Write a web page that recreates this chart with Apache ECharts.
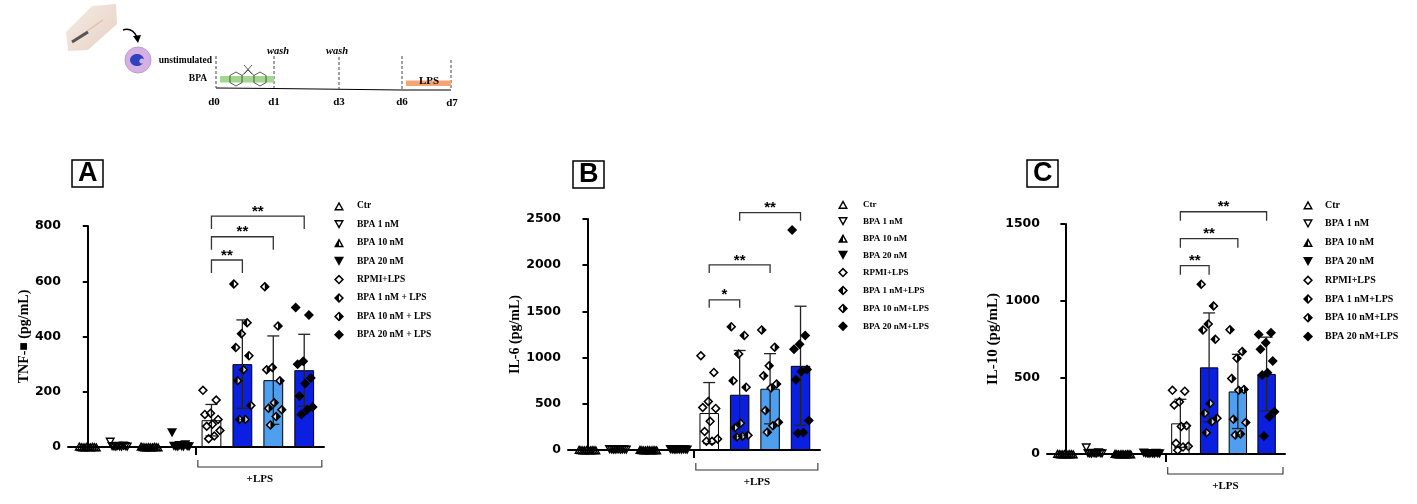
<!DOCTYPE html>
<html>
<head>
<meta charset="utf-8">
<script src="https://cdn.jsdelivr.net/npm/echarts@6/dist/echarts.min.js"></script>
<style>
  html, body { margin: 0; padding: 0; background: #fff; }
  #chart { width: 1417px; height: 504px; }
</style>
</head>
<body>
<div id="chart"></div>
<script>
// Group names, in plot order (legend texts differ a little between panels).
var GROUPS_A = ['Ctr', 'BPA 1 nM', 'BPA 10 nM', 'BPA 20 nM',
  'RPMI+LPS', 'BPA 1 nM + LPS', 'BPA 10 nM + LPS', 'BPA 20 nM + LPS'];
var GROUPS_BC = ['Ctr', 'BPA 1 nM', 'BPA 10 nM', 'BPA 20 nM',
  'RPMI+LPS', 'BPA 1 nM+LPS', 'BPA 10 nM+LPS', 'BPA 20 nM+LPS'];

// Y axis ticks per panel.
var TICKS_A = [0, 200, 400, 600, 800];
var TICKS_B = [0, 500, 1000, 1500, 2000, 2500];
var TICKS_C = [0, 500, 1000, 1500];

// A: TNF (pg/mL)
var TNF_MEAN = [1, 3, 1, 7, 97, 300, 242, 278];
var TNF_SD = [1, 6, 1, 12, 57, 160, 160, 130];
var TNF_POINTS = [
  [3, 2, 2, 1, 1, 1, 0, 0, 0, 0],
  [18, 4, 3, 2, 2, 1, 1, 0, 0, 0],
  [3, 2, 1, 1, 1, 0, 0, 0, 0, 0],
  [52, 8, 5, 3, 2, 2, 1, 1, 0, 0],
  [205, 170, 122, 118, 100, 82, 75, 60, 40, 30],
  [590, 450, 410, 360, 330, 280, 240, 150, 100, 100],
  [580, 438, 288, 280, 240, 160, 140, 135, 110, 80],
  [505, 478, 310, 300, 250, 230, 185, 145, 135, 118]
];
var TNF_BRACKETS = [[4, 5, 677, '**'], [4, 6, 761, '**'], [4, 7, 836, '**']];

// B: IL-6 (pg/mL)
var IL6_MEAN = [2, 2, 2, 2, 400, 598, 663, 911];
var IL6_SD = [2, 2, 2, 2, 330, 479, 380, 645];
var IL6_POINTS = [
  [5, 4, 3, 3, 2, 2, 1, 1, 0, 0],
  [5, 4, 3, 3, 2, 2, 1, 1, 0, 0],
  [5, 4, 3, 3, 2, 2, 1, 1, 0, 0],
  [5, 4, 3, 3, 2, 2, 1, 1, 0, 0],
  [1020, 840, 525, 460, 450, 310, 200, 120, 95, 95],
  [1335, 1240, 1040, 750, 680, 290, 240, 160, 150, 140],
  [1300, 1113, 911, 803, 713, 670, 428, 299, 263, 191],
  [2380, 1240, 1145, 1090, 870, 850, 760, 320, 190, 180]
];
var IL6_BRACKETS = [[4, 5, 1625, '*'], [4, 6, 2003, '**'], [5, 7, 2568, '**']];

// C: IL-10 (pg/mL)
var IL10_MEAN = [2, 7, 2, 3, 200, 565, 408, 522];
var IL10_SD = [1, 12, 1, 2, 157, 355, 242, 240];
var IL10_POINTS = [
  [3, 2, 2, 1, 1, 0, 0, 0, 0, 0],
  [40, 8, 5, 4, 3, 2, 2, 1, 1, 0],
  [3, 2, 2, 1, 1, 0, 0, 0, 0, 0],
  [6, 5, 4, 3, 2, 2, 1, 1, 0, 0],
  [415, 410, 340, 320, 185, 180, 70, 50, 45, 25],
  [1107, 965, 848, 809, 748, 330, 265, 233, 211, 139],
  [810, 668, 624, 493, 420, 415, 226, 205, 130, 124],
  [780, 791, 726, 683, 607, 530, 515, 276, 243, 117]
];
var IL10_BRACKETS = [[4, 5, 1228, '**'], [4, 6, 1404, '**'], [4, 7, 1580, '**']];

// Stimulated groups sit under the "+LPS" bracket.
var LPS_GROUP = [4, 7];

// ---- styling ----
var SANS = '"Liberation Sans", Arial, sans-serif';
var WIDE_SANS = '"DejaVu Sans", "Liberation Sans", sans-serif';
var SERIF = '"Liberation Serif", "Times New Roman", serif';
var DARK_BLUE = '#0b1fe0';
var LIGHT_BLUE = '#4f9ff0';
var BAR_COLORS = ['#fff', '#fff', '#fff', '#fff', '#fff', DARK_BLUE, LIGHT_BLUE, DARK_BLUE];

// Marker shapes drawn as filled compound paths (outer ring + optional half).
var RING_DIAMOND = 'M5,0L10,5L5,10L0,5ZM5,2.2L2.2,5L5,7.8L7.8,5Z';
var SYMBOLS = [
  'path://M5,0L10,9L0,9ZM5,2.9L2.4,7.5L7.6,7.5Z',
  'path://M0,0L10,0L5,9ZM2.4,1.5L5,6.1L7.6,1.5Z',
  'path://M5,0L10,9L0,9ZM5,2.9L2.4,7.5L7.6,7.5ZM5,2.9L5,7.5L2.4,7.5Z',
  'path://M0,0L10,0L5,9Z',
  'path://' + RING_DIAMOND,
  'path://' + RING_DIAMOND + 'M5,2.2L5,7.8L2.2,5Z',
  'path://' + RING_DIAMOND + 'M5,2.2L7.8,5L5,7.8Z',
  'path://M5,0L10,5L5,10L0,5Z'
];
var SYMBOL_SIZES = [[10, 9], [10, 9], [10, 9], [10, 9], 10, 10, 10, 10];

// deterministic horizontal spread of the dots inside a bar
function spread(j) {
  return (((j * 7) % 10) / 9 - 0.5) * 0.55;
}

function errorRender(params, api) {
  var x = api.value(0), m = api.value(1), s = api.value(2);
  var top = api.coord([x, m + s]);
  var lowV = m - s;
  var bot = api.coord([x, Math.max(0, lowV)]);
  var st = { stroke: '#222', lineWidth: 1.3 };
  var kids = [
    { type: 'line', shape: { x1: top[0], y1: top[1], x2: bot[0], y2: bot[1] }, style: st },
    { type: 'line', shape: { x1: top[0] - 6, y1: top[1], x2: top[0] + 6, y2: top[1] }, style: st }
  ];
  if (lowV > 0) {
    kids.push({ type: 'line', shape: { x1: bot[0] - 6, y1: bot[1], x2: bot[0] + 6, y2: bot[1] }, style: st });
  }
  return { type: 'group', children: kids };
}

function bracketRender(list, tick) {
  return function (params, api) {
    var a = api.coord([api.value(0), api.value(2)]);
    var b = api.coord([api.value(1), api.value(2)]);
    var st = { stroke: '#333', lineWidth: 1.3, fill: null };
    return {
      type: 'group',
      children: [
        { type: 'polyline', shape: { points: [[a[0], a[1] + tick], a, b, [b[0], b[1] + tick]] }, style: st },
        {
          type: 'text',
          style: {
            text: list[params.dataIndex][3], x: (a[0] + b[0]) / 2, y: a[1] + 3,
            align: 'center', verticalAlign: 'bottom', textAlign: 'center', textVerticalAlign: 'bottom',
            font: 'bold 15px ' + SANS, fill: '#000'
          }
        }
      ]
    };
  };
}

function groupRender(params, api) {
  var sep = api.coord([api.value(0) - 0.5, 0]);
  var a = api.coord([api.value(0) - 0.44, 0]);
  var b = api.coord([api.value(1) + 0.57, 0]);
  var y = a[1] + 20;
  return {
    type: 'group',
    children: [
      { type: 'line', shape: { x1: sep[0], y1: sep[1], x2: sep[0], y2: sep[1] + 8 }, style: { stroke: '#000', lineWidth: 2 } },
      { type: 'polyline', shape: { points: [[a[0], y - 7], [a[0], y], [b[0], y], [b[0], y - 7]] }, style: { stroke: '#333', lineWidth: 1.1, fill: null } },
      {
        type: 'text',
        style: {
          text: '+LPS', x: (a[0] + b[0]) / 2, y: y + 12,
          align: 'center', verticalAlign: 'middle', textAlign: 'center', textVerticalAlign: 'middle',
          font: 'bold 11px ' + SERIF, fill: '#000'
        }
      }
    ]
  };
}

var PANELS = [
  { letter: 'A', name: 'TNF-\u25A0 (pg/mL)', ticks: TICKS_A, mean: TNF_MEAN, sd: TNF_SD, points: TNF_POINTS,
    brackets: TNF_BRACKETS, tick: 13, groups: GROUPS_A,
    grid: { left: 68, top: 226, width: 256, height: 221 }, nameGap: 36, nameSize: 14,
    box: { left: 72, top: 160 }, legend: { left: 334, top: 201, gap: 8.4, size: 9.5, pad: 8 } },
  { letter: 'B', name: 'IL-6 (pg/mL)', ticks: TICKS_B, mean: IL6_MEAN, sd: IL6_SD, points: IL6_POINTS,
    brackets: IL6_BRACKETS, tick: 8, groups: GROUPS_BC,
    grid: { left: 568, top: 219, width: 252, height: 231 }, nameGap: 44, nameSize: 14,
    box: { left: 573, top: 161 }, legend: { left: 838, top: 200, gap: 7.9, size: 9, pad: 10 } },
  { letter: 'C', name: 'IL-10 (pg/mL)', ticks: TICKS_C, mean: IL10_MEAN, sd: IL10_SD, points: IL10_POINTS,
    brackets: IL10_BRACKETS, tick: 9, groups: GROUPS_BC,
    grid: { left: 1047, top: 224, width: 238, height: 230 }, nameGap: 46, nameSize: 15,
    box: { left: 1027, top: 160 }, legend: { left: 1303, top: 200, gap: 8.8, size: 10, pad: 7 } }
];

var option = {
  animation: false,
  backgroundColor: '#fff',
  title: [], legend: [], grid: [], xAxis: [], yAxis: [], series: [],
  graphic: []
};

PANELS.forEach(function (p, i) {
  var t = p.ticks;
  option.title.push({
    text: p.letter, left: p.box.left, top: p.box.top,
    borderColor: '#000', borderWidth: 1.5, padding: [1, 6, 0, 6],
    textStyle: { fontFamily: SANS, fontWeight: 'bold', fontSize: 27, lineHeight: 26, color: '#000' }
  });
  option.legend.push({
    orient: 'vertical', left: p.legend.left, top: p.legend.top, padding: 0,
    itemWidth: 10, itemHeight: 10, itemGap: p.legend.gap, selectedMode: false,
    data: p.groups,
    textStyle: { fontFamily: SERIF, fontWeight: 'bold', fontSize: p.legend.size, color: '#000',
      padding: [0, 0, 0, p.legend.pad] }
  });
  option.grid.push(p.grid);
  option.xAxis.push({
    gridIndex: i, type: 'value', min: -0.64, max: 7.64,
    axisLine: { show: true, lineStyle: { color: '#000', width: 2 } },
    axisTick: { show: false }, axisLabel: { show: false }, splitLine: { show: false }
  });
  option.yAxis.push({
    gridIndex: i, type: 'value', min: t[0], max: t[t.length - 1], interval: t[1] - t[0],
    name: p.name, nameLocation: 'middle', nameGap: p.nameGap, nameRotate: 90,
    nameTextStyle: { fontFamily: SERIF, fontWeight: 'bold', fontSize: p.nameSize, color: '#000' },
    axisLine: { show: true, lineStyle: { color: '#000', width: 2 } },
    axisTick: { show: true, length: 5, lineStyle: { color: '#000', width: 2 } },
    axisLabel: { margin: 7, fontFamily: WIDE_SANS, fontWeight: 'bold', fontSize: 12.5, color: '#000',
      formatter: function (v) { return String(v); } },
    splitLine: { show: false }
  });

  option.series.push({
    type: 'bar', xAxisIndex: i, yAxisIndex: i, barWidth: '64%', z: 2,
    itemStyle: { borderColor: '#000', borderWidth: 1 },
    data: p.mean.map(function (v, k) {
      return { value: [k, v], itemStyle: { color: BAR_COLORS[k] } };
    })
  });
  option.series.push({
    type: 'custom', xAxisIndex: i, yAxisIndex: i, z: 3, clip: false,
    renderItem: errorRender, encode: { x: 0, y: 1 },
    data: p.mean.map(function (v, k) { return [k, v, p.sd[k]]; })
  });
  // white fill behind the half-filled diamonds sitting on coloured bars
  [5, 6].forEach(function (k) {
    option.series.push({
      type: 'scatter', xAxisIndex: i, yAxisIndex: i, z: 4, symbol: 'diamond', symbolSize: 9,
      itemStyle: { color: '#fff' }, silent: true,
      data: p.points[k].map(function (v, j) { return [k + spread(j), v]; })
    });
  });
  p.points.forEach(function (pts, k) {
    option.series.push({
      type: 'scatter', name: p.groups[k], xAxisIndex: i, yAxisIndex: i, z: 5,
      symbol: SYMBOLS[k], symbolSize: SYMBOL_SIZES[k],
      itemStyle: { color: '#000', borderWidth: 0, opacity: 1 },
      data: pts.map(function (v, j) { return [k + spread(j), v]; })
    });
  });
  option.series.push({
    type: 'custom', xAxisIndex: i, yAxisIndex: i, z: 6, clip: false,
    renderItem: bracketRender(p.brackets, p.tick), encode: { x: [0, 1], y: 2 },
    data: p.brackets.map(function (b) { return [b[0], b[1], b[2]]; })
  });
  option.series.push({
    type: 'custom', xAxisIndex: i, yAxisIndex: i, z: 6, clip: false,
    renderItem: groupRender, encode: { x: [0, 1], y: 2 },
    data: [[LPS_GROUP[0], LPS_GROUP[1], 0]]
  });
});

// ---- protocol sketch at the top left ----
function txt(s, x, y, font, align) {
  return { type: 'text', silent: true, style: { text: s, x: x, y: y, font: font, fill: '#000',
    align: align || 'center', textAlign: align || 'center', verticalAlign: 'middle', textVerticalAlign: 'middle' } };
}
function dashV(x, y1, y2) {
  return { type: 'line', silent: true, shape: { x1: x, y1: y1, x2: x, y2: y2 },
    style: { stroke: '#444', lineWidth: 1, lineDash: [3, 2] } };
}
function hexagon(cx, cy, r) {
  var pts = [];
  for (var k = 0; k < 6; k++) {
    var a = Math.PI / 6 + k * Math.PI / 3;
    pts.push([cx + r * Math.cos(a), cy + r * Math.sin(a)]);
  }
  return { type: 'polygon', silent: true, shape: { points: pts }, style: { stroke: '#333', lineWidth: 0.8, fill: null } };
}
var BOLD9 = 'bold 9.5px ' + SERIF;
var BOLD11 = 'bold 11px ' + SERIF;
var WASH = 'italic bold 10.5px ' + SERIF;
option.graphic = [
  // hand with syringe
  { type: 'polygon', silent: true, shape: { points: [[66, 32], [92, 6], [116, 4], [117, 24], [88, 50], [68, 51]] },
    style: { fill: new echarts.graphic.LinearGradient(0, 0, 1, 1, [{ offset: 0, color: '#f6ece5' }, { offset: 1, color: '#e6d0c2' }]) } },
  { type: 'line', silent: true, shape: { x1: 74, y1: 40, x2: 103, y2: 20 }, style: { stroke: '#d9c1b2', lineWidth: 1.2 } },
  { type: 'line', silent: true, shape: { x1: 72, y1: 42, x2: 88, y2: 32 }, style: { stroke: '#555', lineWidth: 3 } },
  // arrow to the cell
  { type: 'bezierCurve', silent: true, shape: { x1: 123, y1: 30, cpx1: 132, cpy1: 27, x2: 137, y2: 37 },
    style: { stroke: '#000', lineWidth: 1.4, fill: null } },
  { type: 'polygon', silent: true, shape: { points: [[133, 36], [141, 35], [138, 43]] }, style: { fill: '#000' } },
  // neutrophil
  { type: 'circle', silent: true, shape: { cx: 138, cy: 60, r: 13 }, style: { fill: '#d4b1e2', stroke: '#c19ad3', lineWidth: 1 } },
  { type: 'ellipse', silent: true, shape: { cx: 137, cy: 60, rx: 7, ry: 6 }, style: { fill: '#2f42bd' } },
  { type: 'circle', silent: true, shape: { cx: 142, cy: 61, r: 2.6 }, style: { fill: '#d4b1e2' } },
  // timeline
  txt('unstimulated', 212, 61, BOLD9, 'right'),
  txt('BPA', 198, 79, BOLD9),
  { type: 'polyline', silent: true, shape: { points: [[216, 88], [274, 88.5], [402, 90], [451, 90]] }, style: { stroke: '#000', lineWidth: 1, fill: null } },
  dashV(216, 56, 88), dashV(274, 56, 88), dashV(339, 57, 89), dashV(402, 56, 89), dashV(451, 60, 90),
  { type: 'rect', silent: true, shape: { x: 220, y: 76, width: 54, height: 6.5 }, style: { fill: '#a3d68e' } },
  hexagon(236, 79, 7), hexagon(260, 79, 7),
  { type: 'polyline', silent: true, shape: { points: [[242, 75.5], [248, 70], [254, 75.5]] }, style: { stroke: '#333', lineWidth: 0.8, fill: null } },
  { type: 'line', silent: true, shape: { x1: 244, y1: 65, x2: 252, y2: 74 }, style: { stroke: '#333', lineWidth: 0.8 } },
  { type: 'line', silent: true, shape: { x1: 252, y1: 65, x2: 244, y2: 74 }, style: { stroke: '#333', lineWidth: 0.8 } },
  { type: 'rect', silent: true, shape: { x: 406, y: 80.5, width: 45, height: 5.5 }, style: { fill: '#f3a671' } },
  txt('LPS', 429, 81, BOLD11),
  txt('wash', 278, 51, WASH),
  txt('wash', 337, 51, WASH),
  txt('d0', 214, 102, BOLD11), txt('d1', 274, 102, BOLD11), txt('d3', 339, 102, BOLD11),
  txt('d6', 402, 102, BOLD11), txt('d7', 452, 103, BOLD11)
];

var chart = echarts.init(document.getElementById('chart'));
chart.setOption(option);
window.addEventListener('resize', function () { chart.resize(); });
</script>
</body>
</html>
